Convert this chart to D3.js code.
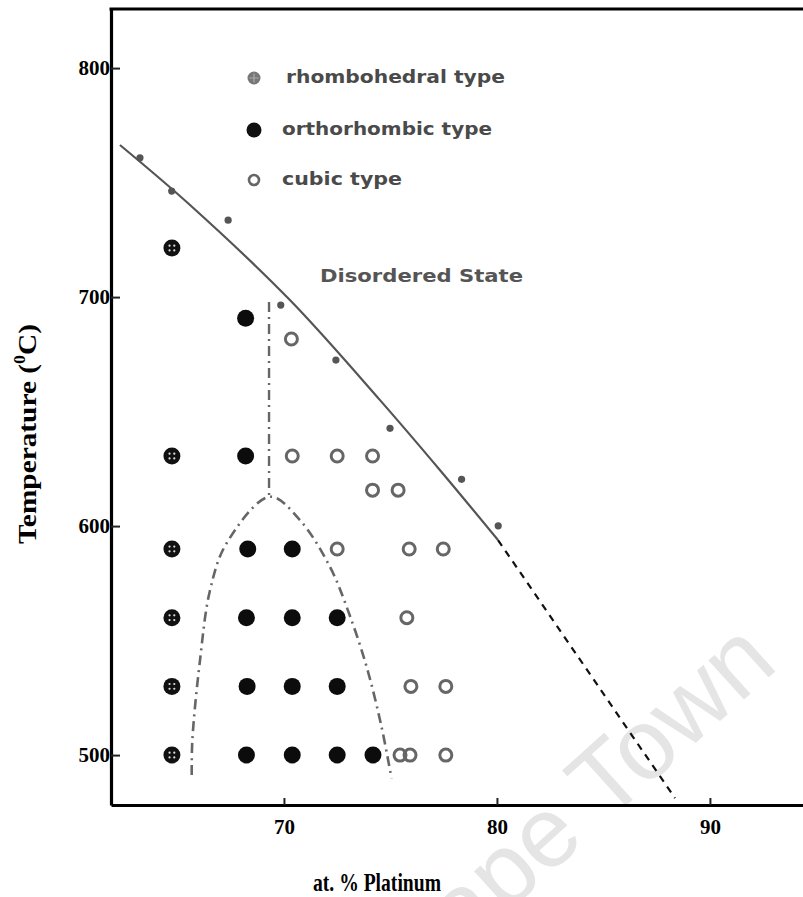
<!DOCTYPE html>
<html>
<head>
<meta charset="utf-8">
<script src="https://cdn.jsdelivr.net/npm/d3@7"></script>
<style>
  html, body { margin: 0; padding: 0; background: #fff; }
  svg { display: block; }
</style>
</head>
<body>
<svg id="chart" width="803" height="897"></svg>
<script>
// Ordering phases in the Pt-rich alloy system: phase type vs composition and temperature
// Each point is [at. % Pt, temperature in degrees C]

const xTicks = [70, 80, 90];
const yTicks = [500, 600, 700, 800];

const rhombohedral = [
  [64.74, 500], [64.74, 530], [64.74, 560], [64.74, 590], [64.74, 630.6], [64.74, 721.4]
];
const orthorhombic = [
  [68.24, 500], [70.39, 500], [72.50, 500], [74.18, 500],
  [68.27, 530], [70.39, 530], [72.50, 530],
  [68.24, 560], [70.39, 560], [72.50, 560],
  [68.30, 590], [70.39, 590],
  [68.20, 630.6],
  [68.20, 690.8]
];
const cubic = [
  [75.45, 500], [75.92, 500], [77.60, 500],
  [75.96, 530], [77.60, 530],
  [75.77, 560],
  [72.50, 590], [75.88, 590], [77.48, 590],
  [70.39, 630.6], [72.50, 630.6], [74.16, 630.6],
  [74.16, 615.7], [75.36, 615.7],
  [70.35, 681.7]
];
// order-disorder transition temperatures
const transitions = [
  [63.24, 760.8], [64.73, 746.3], [67.38, 733.6], [69.85, 696.5],
  [72.44, 672.5], [74.98, 642.7], [78.34, 620.4], [80.06, 600.1]
];
// order-disorder boundary (measured part) and its extrapolation
const boundary = [
  [62.30, 766.4], [65.59, 740.2], [70.28, 698.7], [74.51, 655.0], [77.32, 624.5], [80.05, 593.9]
];
const boundaryExtrap = [[80.05, 593.9], [88.36, 481.2]];
// orthorhombic / cubic phase limits
const phaseDivide = [[69.30, 697.8], [69.30, 612.8]];
const orthoDome = [
  [65.67, 491.3], [65.70, 506.6], [66.06, 541.5], [66.53, 572.0], [67.30, 592.4],
  [69.34, 612.8],
  [70.75, 602.6], [72.16, 582.2], [73.00, 563.3], [73.88, 538.6], [74.58, 512.4], [75.05, 489.8]
];

const legendItems = [
  { key: "rhombohedral", label: "rhombohedral type" },
  { key: "orthorhombic", label: "orthorhombic type" },
  { key: "cubic",        label: "cubic type" }
];

const W = 803, H = 897;
const plot = { left: 111, right: 803, top: 9, bottom: 805 };

const svg = d3.select("#chart");

const x = d3.scaleLinear().domain([61.88, 94.37]).range([plot.left, plot.right]);
const y = d3.scaleLinear().domain([478.2, 825.8]).range([plot.bottom, plot.top]);

// faint watermark behind the plot
svg.append("text")
  .attr("transform", "translate(780,667) rotate(-42)")
  .attr("text-anchor", "end")
  .attr("font-family", "Liberation Sans, Arial, sans-serif")
  .attr("font-size", 100)
  .attr("fill", "#e5e5e5")
  .text("Cape Town");

const serif = "Liberation Serif, Times New Roman, serif";
const sans = "DejaVu Sans, Verdana, sans-serif";

// axes
const yAxis = d3.axisLeft(y).tickValues(yTicks).tickSizeInner(-9).tickSizeOuter(0).tickPadding(1);
const xAxis = d3.axisBottom(x).tickValues(xTicks).tickSizeInner(-7).tickSizeOuter(0).tickPadding(14);

const gy = svg.append("g").attr("transform", `translate(${plot.left},0)`).call(yAxis);
const gx = svg.append("g").attr("transform", `translate(0,${plot.bottom})`).call(xAxis);

[gx, gy].forEach(g => {
  g.select(".domain").attr("stroke", "#000").attr("stroke-width", 3.2);
  g.selectAll(".tick line").attr("stroke", "#222").attr("stroke-width", 2);
  g.selectAll(".tick text")
    .attr("font-family", serif)
    .attr("font-weight", "bold")
    .attr("font-size", 21)
    .attr("fill", "#000");
});

// top border
svg.append("line")
  .attr("x1", plot.left - 1.5).attr("x2", plot.right)
  .attr("y1", plot.top).attr("y2", plot.top)
  .attr("stroke", "#000").attr("stroke-width", 3.2);

// axis titles
svg.append("text")
  .attr("x", 377).attr("y", 885)
  .attr("text-anchor", "middle")
  .attr("dominant-baseline", "middle")
  .attr("font-family", serif).attr("font-weight", "bold").attr("font-size", 25)
  .attr("textLength", 128).attr("lengthAdjust", "spacingAndGlyphs")
  .text("at. % Platinum");

const yt = svg.append("text")
  .attr("transform", "translate(30,434) rotate(-90)")
  .attr("text-anchor", "middle")
  .attr("dominant-baseline", "middle")
  .attr("font-family", serif).attr("font-weight", "bold").attr("font-size", 26)
  .attr("textLength", 220).attr("lengthAdjust", "spacingAndGlyphs");
yt.append("tspan").text("Temperature (");
yt.append("tspan").attr("font-size", 16).attr("dy", -9).text("0");
yt.append("tspan").attr("dy", 9).text("C)");

// curves
const line = d3.line().x(d => x(d[0])).y(d => y(d[1]));
const smooth = d3.line().x(d => x(d[0])).y(d => y(d[1])).curve(d3.curveCatmullRom.alpha(0.5));

svg.append("path").datum(boundary)
  .attr("d", smooth).attr("fill", "none")
  .attr("stroke", "#555").attr("stroke-width", 2.2);

svg.append("path").datum(boundaryExtrap)
  .attr("d", line).attr("fill", "none")
  .attr("stroke", "#111").attr("stroke-width", 2.2)
  .attr("stroke-dasharray", "7,6");

const dashDot = "10,5,2,5";
svg.append("path").datum(phaseDivide)
  .attr("d", line).attr("fill", "none")
  .attr("stroke", "#666").attr("stroke-width", 2.4)
  .attr("stroke-dasharray", dashDot);

svg.append("path").datum(orthoDome)
  .attr("d", smooth).attr("fill", "none")
  .attr("stroke", "#666").attr("stroke-width", 2.6)
  .attr("stroke-dasharray", dashDot);

// transition points
svg.append("g").selectAll("circle").data(transitions).join("circle")
  .attr("cx", d => x(d[0])).attr("cy", d => y(d[1]))
  .attr("r", 3.6).attr("fill", "#555");

// phase markers
function rhombMarker(g, r, fill, cross) {
  g.append("circle").attr("r", r).attr("fill", fill);
  const o = r * 0.28;
  [[-1, -1], [1, -1], [-1, 1], [1, 1]].forEach(([a, b]) => {
    g.append("circle").attr("cx", a * o).attr("cy", b * o).attr("r", r * 0.13).attr("fill", cross);
  });
}

svg.append("g").selectAll("g").data(rhombohedral).join("g")
  .attr("transform", d => `translate(${x(d[0])},${y(d[1])})`)
  .each(function () { rhombMarker(d3.select(this), 8.5, "#111", "#ddd"); });

svg.append("g").selectAll("circle").data(orthorhombic).join("circle")
  .attr("cx", d => x(d[0])).attr("cy", d => y(d[1]))
  .attr("r", 8.5).attr("fill", "#0c0c0c");

svg.append("g").selectAll("circle").data(cubic).join("circle")
  .attr("cx", d => x(d[0])).attr("cy", d => y(d[1]))
  .attr("r", 6).attr("fill", "none")
  .attr("stroke", "#666").attr("stroke-width", 3);

// legend
const legend = svg.append("g");
const legendRows = [
  { y: 78, tx: 286, len: 219 },
  { y: 130, tx: 282, len: 210 },
  { y: 180, tx: 282, len: 120 }
];
legendItems.forEach((item, i) => {
  const row = legendRows[i];
  const m = legend.append("g").attr("transform", `translate(254,${row.y})`);
  if (item.key === "rhombohedral") {
    m.append("circle").attr("r", 6.5).attr("fill", "#777");
    m.append("path").attr("d", "M-4.5,0H4.5M0,-4.5V4.5").attr("stroke", "#aaa").attr("stroke-width", 1.2);
  } else if (item.key === "orthorhombic") {
    m.append("circle").attr("r", 7.5).attr("fill", "#111");
  } else {
    m.append("circle").attr("r", 5).attr("fill", "none").attr("stroke", "#666").attr("stroke-width", 2.6);
  }
  legend.append("text")
    .attr("x", row.tx).attr("y", row.y)
    .attr("dominant-baseline", "middle")
    .attr("font-family", sans).attr("font-weight", "bold").attr("font-size", 18)
    .attr("fill", "#4a4a4a")
    .attr("textLength", row.len).attr("lengthAdjust", "spacingAndGlyphs")
    .text(item.label);
});

svg.append("text")
  .attr("x", 320).attr("y", 277)
  .attr("dominant-baseline", "middle")
  .attr("font-family", sans).attr("font-weight", "bold").attr("font-size", 18)
  .attr("fill", "#555")
  .attr("textLength", 203).attr("lengthAdjust", "spacingAndGlyphs")
  .text("Disordered State");
</script>
</body>
</html>
